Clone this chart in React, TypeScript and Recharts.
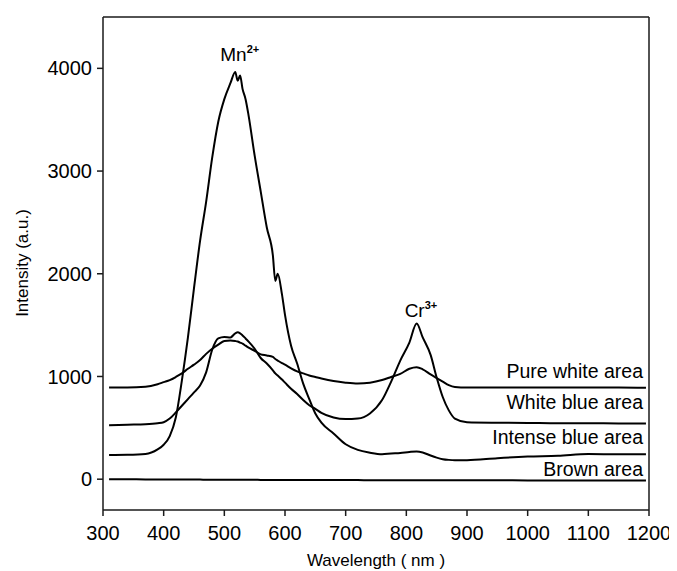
import { LineChart, Line, XAxis, YAxis, ReferenceLine, ReferenceDot } from "recharts";

// wavelength grid (nm) and the four emission spectra
const wavelengths = [
  310, 340, 370, 390, 400, 410, 420, 430, 440, 450, 460, 470, 480, 490, 500, 510, 518, 522, 526, 530,
  535, 540, 550, 560, 570, 580, 584, 588, 595, 600, 610, 620, 630, 640, 650, 660, 680, 700, 720, 740,
  760, 775, 790, 805, 817, 827, 840, 850, 860, 870, 880, 900, 950, 1000, 1050, 1100, 1150, 1195,
];

const pureWhite = [
  893, 893, 900, 925, 945, 965, 995, 1030, 1075, 1115, 1160, 1220, 1270, 1310, 1345, 1350, 1345, 1340, 1330, 1320,
  1300, 1280, 1250, 1215, 1205, 1190, 1170, 1155, 1130, 1115, 1080, 1050, 1030, 1010, 995, 980, 955, 940, 932, 940,
  965, 995, 1025, 1075, 1090, 1070, 1020, 985, 950, 915, 898, 893, 893, 893, 893, 893, 893, 890,
];

const whiteBlue = [
  524, 530, 535, 545, 555, 590, 650, 715, 780, 845, 913, 1040, 1260, 1370, 1385, 1380, 1420, 1430, 1420, 1400,
  1370, 1340, 1270, 1180, 1126, 1060, 1030, 1010, 970, 940, 880, 830, 770, 720, 685, 645, 600, 585, 590, 640,
  770, 950, 1155, 1330, 1515, 1380, 1210, 990, 800, 670, 590, 555, 550, 548, 545, 545, 543, 543,
];

const intenseBlue = [
  235, 237, 245, 290, 335, 420, 600, 960, 1380, 1860, 2320, 2700, 3130, 3480, 3700, 3855, 3965, 3880, 3930, 3800,
  3700, 3540, 3150, 2800, 2450, 2180, 1930, 2000, 1800, 1600, 1300, 1126, 930, 780, 640, 550, 445, 340, 285, 258,
  243, 250, 255, 265, 270, 260, 230, 210, 195, 188, 185, 185, 205, 220, 228, 245, 243, 243,
];

const brown = [
  0, 0, -2, -2, -3, -3, -3, -4, -4, -4, -4, -5, -5, -5, -5, -5, -6, -6, -6, -6,
  -6, -6, -6, -7, -7, -7, -7, -7, -7, -8, -8, -8, -8, -8, -8, -9, -9, -9, -9, -10,
  -10, -10, -10, -10, -10, -10, -10, -10, -11, -11, -11, -11, -11, -12, -12, -12, -12, -12,
];

const xTicks = [300, 400, 500, 600, 700, 800, 900, 1000, 1100, 1200];
const yTicks = [0, 1000, 2000, 3000, 4000];

const seriesLabels = ["Pure white area", "White blue area", "Intense blue area", "Brown area"];

const data = wavelengths.map((w, i) => ({
  w,
  pureWhite: pureWhite[i],
  whiteBlue: whiteBlue[i],
  intenseBlue: intenseBlue[i],
  brown: brown[i],
}));

const FONT = "'Liberation Sans', Arial, sans-serif";
const INK = "#1a1a1a";

// end-of-line labels sit above the flat tail of each curve
const endValues = [pureWhite, whiteBlue, intenseBlue, brown].map((s) => s[s.length - 1]);
const labelLift = [10, 14, 10, 4];

const peakLabel = (main: string, sup: string, dxs: number, lift: number) => (props: any) => {
  const vb = props.viewBox || {};
  const cx = (vb.x ?? 0) + (vb.width ?? 0) / 2;
  const cy = (vb.y ?? 0) + (vb.height ?? 0) / 2;
  return (
    <text x={cx + dxs} y={cy - lift} fontFamily={FONT} fontSize={19} fill="#000">
      {main}
      <tspan dy={-8} fontSize={11} fontWeight="bold">{sup}</tspan>
    </text>
  );
};

const endLabel = (text: string, lift: number) => (props: any) => {
  const vb = props.viewBox || {};
  const cx = (vb.x ?? 0) + (vb.width ?? 0) / 2;
  const cy = (vb.y ?? 0) + (vb.height ?? 0) / 2;
  return (
    <text x={cx - 6} y={cy - lift} textAnchor="end" fontFamily={FONT} fontSize={19.5} fill="#000">
      {text}
    </text>
  );
};

const xTitle = () => (
  <text x={368} y={558} textAnchor="middle" fontFamily={FONT} fontSize={17} fill="#000">
    Wavelength ( nm )
  </text>
);

const yTitle = () => (
  <text x={0} y={0} transform="translate(20,255) rotate(-90)" textAnchor="middle" fontFamily={FONT}
    fontSize={17} fill="#000">
    Intensity (a.u.)
  </text>
);

export default function App() {
  return (
    <LineChart
      width={669}
      height={563}
      data={data}
      margin={{ top: 9, right: 28, left: 0, bottom: 0 }}
      style={{ fontFamily: FONT }}
    >
      <XAxis
        dataKey="w"
        type="number"
        domain={[300, 1200]}
        ticks={xTicks}
        allowDataOverflow
        height={61}
        tickSize={6}
        tickMargin={10}
        stroke={INK}
        strokeWidth={1.5}
        tick={{ fontSize: 20, fill: "#000", fontFamily: FONT }}
        label={xTitle}
      />
      <YAxis
        type="number"
        domain={[-300, 4500]}
        ticks={yTicks}
        allowDataOverflow
        width={95}
        tickSize={6}
        tickMargin={5}
        stroke={INK}
        strokeWidth={1.5}
        tick={{ fontSize: 20, fill: "#000", fontFamily: FONT }}
        label={yTitle}
      />
      <ReferenceLine y={4500} stroke={INK} strokeWidth={1.5} />
      <ReferenceLine x={1200} stroke={INK} strokeWidth={1.5} />

      <Line dataKey="pureWhite" type="monotone" stroke="#000" strokeWidth={2} dot={false} isAnimationActive={false} />
      <Line dataKey="whiteBlue" type="monotone" stroke="#000" strokeWidth={2} dot={false} isAnimationActive={false} />
      <Line dataKey="intenseBlue" type="monotone" stroke="#000" strokeWidth={2} dot={false} isAnimationActive={false} />
      <Line dataKey="brown" type="monotone" stroke="#000" strokeWidth={2} dot={false} isAnimationActive={false} />

      <ReferenceDot x={518} y={3965} r={0} stroke="none" fill="none" label={peakLabel("Mn", "2+", -15, 11)} />
      <ReferenceDot x={817} y={1515} r={0} stroke="none" fill="none" label={peakLabel("Cr", "3+", -12, 7)} />

      {seriesLabels.map((name, i) => (
        <ReferenceDot
          key={name}
          x={1200}
          y={endValues[i]}
          r={0}
          stroke="none"
          fill="none"
          label={endLabel(name, labelLift[i])}
        />
      ))}
    </LineChart>
  );
}
